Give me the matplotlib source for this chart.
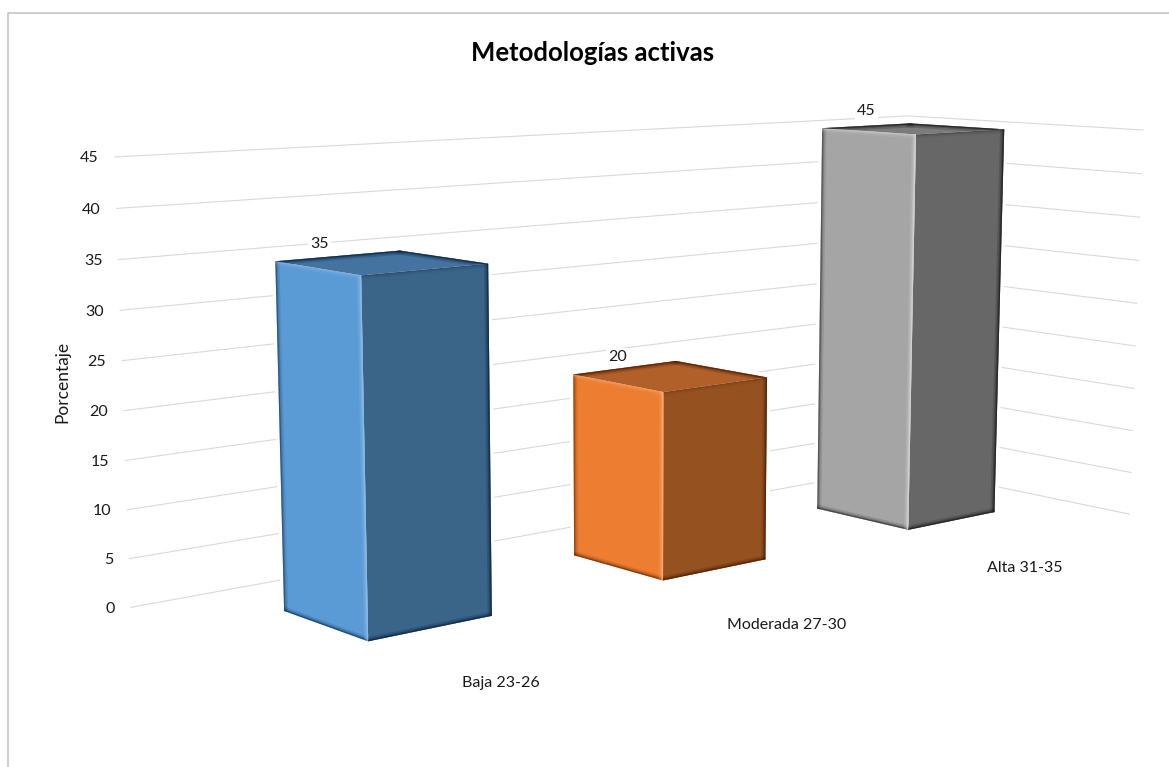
#!/usr/bin/env python3
"""3D column chart, drawn with a small perspective camera."""
import numpy as np
import matplotlib
matplotlib.use("Agg")
import matplotlib.pyplot as plt
from matplotlib.patches import Polygon

categories = ["Baja 23-26", "Moderada 27-30", "Alta 31-35"]
values = [35, 20, 45]
ticks = [0, 5, 10, 15, 20, 25, 30, 35, 40, 45]

title = "Metodologías activas"
ylabel = "Porcentaje"

plt.rcParams["font.family"] = ["Lato", "DejaVu Sans"]

# camera: (category, depth, value) -> canvas pixels
CAMERA = np.array([
    [338.82063402, 66.08734509, -0.43597489, 345.88927832],
    [-2.12883768, 1.20154202, -9.98246584, 599.07874865],
    [0.09453221, -0.04461464, -0.00068607, 1.0],
])

# plot box and bar size in camera space
X_LEFT, X_RIGHT = -0.4939, 2.5027
Y_BACK, Y_FRONT = -0.747, 1.7414
HALF = 0.198

# category labels sit on the floor in front of each bar (x shift, depth)
LABEL_SPOTS = [(-0.166, 2.30), (-0.265, 2.438), (-0.302, 2.40)]

# fill colours: light side, dark side, top, dark bevel, light bevel
PALETTE = [
    ("#5B9BD5", "#3A6488", "#44739F", "#0B2545", "#8FC0EE"),
    ("#ED7D31", "#955220", "#B2602A", "#521F00", "#FFAE70"),
    ("#A5A5A5", "#676767", "#7C7C7C", "#1C1C1C", "#DADADA"),
]
GRID = "#D9D9D9"
FRAME = "#BFBFBF"
INK = "#1A1A1A"


def project(x, y, z):
    h = CAMERA @ np.array([x, y, z, 1.0])
    return h[:2] / h[2]


def bevel(ax, face, a, b, color, strength=1.0):
    # soft edge: stacked strokes, clipped so only the inner half shows
    for width, alpha in ((6, 0.22), (3.5, 0.35), (1.8, 0.7)):
        line, = ax.plot([a[0], b[0]], [a[1], b[1]], color=color, lw=width,
                        alpha=alpha * strength, solid_capstyle="projecting",
                        zorder=face.get_zorder() + 0.1)
        line.set_clip_path(face)


def draw_bar(ax, i, value, colors):
    light, dark, top, edge_dark, edge_light = colors
    x0, x1 = i - HALF, i + HALF

    left_b, left_t = project(x0, 0, 0), project(x0, 0, value)
    front_b, front_t = project(x0, 1, 0), project(x0, 1, value)
    right_b, right_t = project(x1, 1, 0), project(x1, 1, value)
    back_t = project(x1, 0, value)

    outline = [left_b, front_b, right_b, right_t, back_t, left_t]
    ax.add_patch(Polygon(outline, fc="white", ec="white", lw=5, zorder=3))

    side_a = ax.add_patch(Polygon([left_b, front_b, front_t, left_t], fc=light, ec="none", zorder=4))
    side_b = ax.add_patch(Polygon([front_b, right_b, right_t, front_t], fc=dark, ec="none", zorder=4))
    lid = ax.add_patch(Polygon([left_t, front_t, right_t, back_t], fc=top, ec="none", zorder=4))

    bevel(ax, side_a, left_b, left_t, edge_dark, 0.55)
    bevel(ax, side_a, left_b, front_b, edge_dark, 0.7)
    bevel(ax, side_a, front_b, front_t, edge_light)
    bevel(ax, side_a, left_t, front_t, edge_light, 0.5)

    bevel(ax, side_b, right_b, right_t, edge_dark)
    bevel(ax, side_b, front_b, right_b, edge_dark)
    bevel(ax, side_b, front_t, right_t, edge_dark, 0.25)

    bevel(ax, lid, left_t, back_t, edge_dark)
    bevel(ax, lid, back_t, right_t, edge_dark)


def main():
    fig = plt.figure(figsize=(11.69, 7.67), dpi=100)
    ax = fig.add_axes([0, 0, 1, 1])
    ax.set_xlim(0, 1169)
    ax.set_ylim(767, 0)
    ax.axis("off")

    # outer chart border, only top and left are on the canvas
    ax.plot([8, 8, 1169], [767, 13, 13], color=FRAME, lw=1.1, zorder=1)

    ax.text(593, 53, title, fontsize=18.5, fontweight="bold", color="black",
            ha="center", va="center")
    ax.text(62, 382, ylabel, fontsize=12.5, color=INK, rotation=90,
            ha="center", va="center")

    # gridlines wrap around the back wall and the side wall
    for t in ticks:
        pts = [project(X_LEFT, Y_BACK, t), project(X_RIGHT, Y_BACK, t), project(X_RIGHT, Y_FRONT, t)]
        ax.plot(*zip(*pts), color=GRID, lw=0.8, zorder=2)
        px, py = project(X_LEFT, Y_BACK, t)
        ax.text(px - 16, py + 1.5, str(t), fontsize=11.5, color=INK, ha="right", va="center")

    for i, (value, name) in enumerate(zip(values, categories)):
        draw_bar(ax, i, value, PALETTE[i])

        ax.annotate(str(value), xy=project(i - HALF, 0, value), xytext=(32, 12.5),
                    textcoords="offset points", fontsize=11.5, color=INK,
                    ha="center", va="center", zorder=5,
                    bbox=dict(fc="white", ec="none", pad=1.5))

        shift, depth = LABEL_SPOTS[i]
        lx, ly = project(i + shift, depth, 0)
        ax.text(lx, ly, name, fontsize=11.5, color=INK, ha="center", va="center")

    fig.savefig("out.png", dpi=100)
    plt.close(fig)


if __name__ == "__main__":
    main()
